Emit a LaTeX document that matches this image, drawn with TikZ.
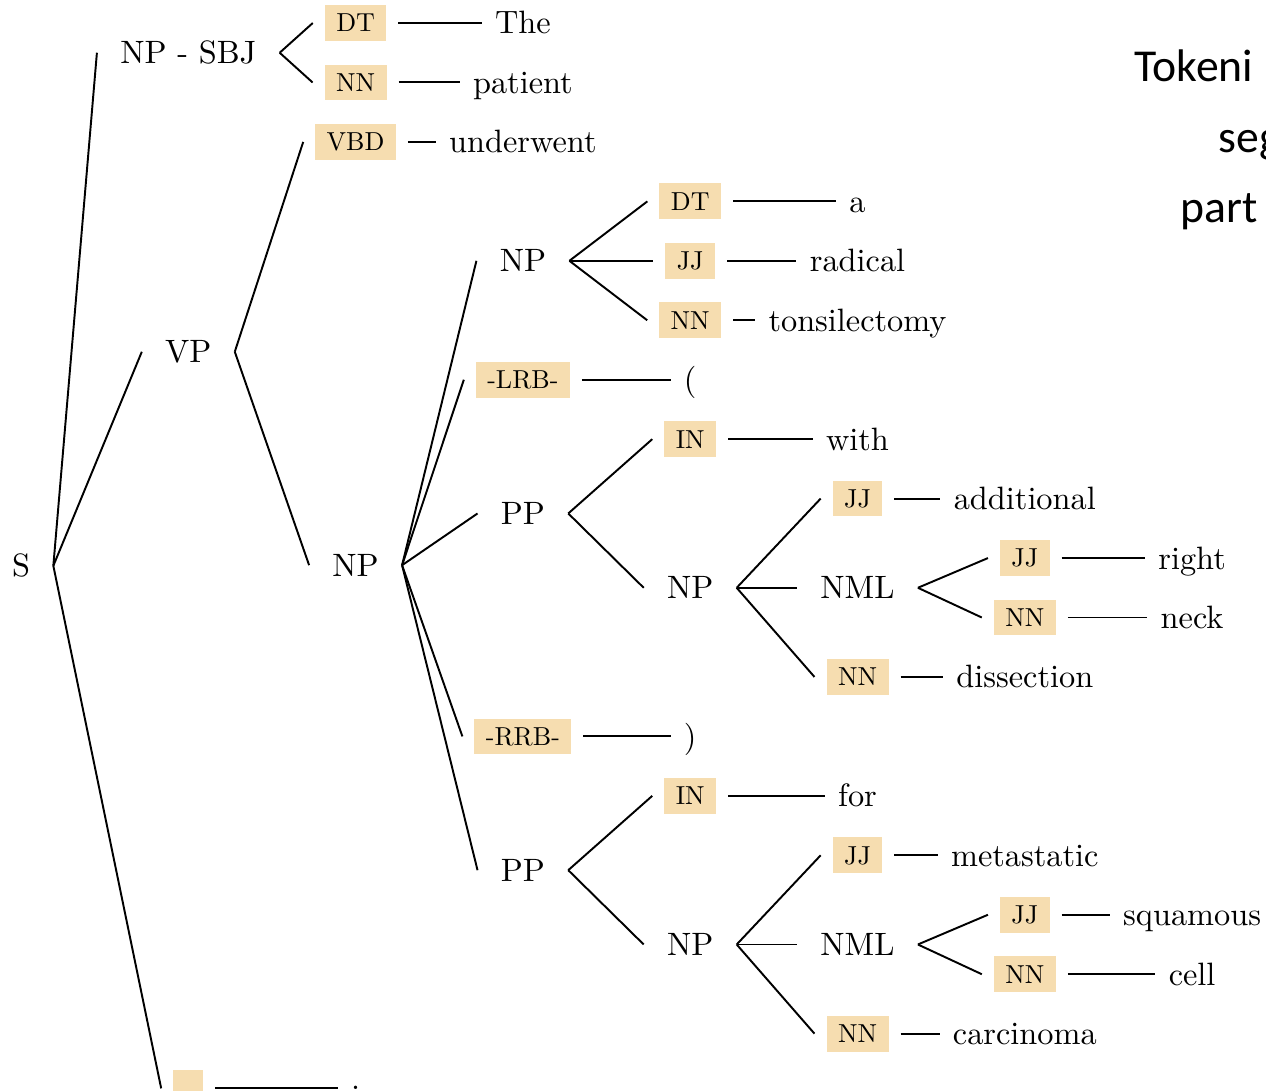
\documentclass[tikz,border=0pt]{standalone}
\usepackage{fontspec}
\usepackage{tikz}
\usepackage{xcolor}
\setmainfont{lmroman10-regular}[Extension=.otf]
\newfontfamily\sidefont{Carlito}
\definecolor{tagbg}{RGB}{246,221,176}

\begin{document}
\begin{tikzpicture}[
    x=3.346cm, y=-1.189cm,
    phr/.style={font=\fontsize{18.4}{22}\selectfont, inner xsep=0.46cm, inner ysep=0pt, text height=12.5pt, text depth=0pt},
    wrd/.style={font=\fontsize{18.4}{22}\selectfont, inner xsep=0.26cm, inner ysep=0pt, text height=12.5pt, text depth=0pt},
    postag/.style={fill=tagbg, font=\fontsize{14.8}{18}\selectfont, inner xsep=0.23cm, inner ysep=0.18cm, outer xsep=0.24cm, outer ysep=0pt, text height=10.1pt, text depth=0pt},
    br/.style={line width=1.1pt},
    side/.style={font=\sidefont\fontsize{26}{30}\selectfont, anchor=base west, inner sep=0pt}
  ]
  \useasboundingbox (-0.1255,-0.387) rectangle (7.4417,17.948);

  % phrases
  \node[phr] (s) at (0,9.13) {S};
  \node[phr] (npsbj) at (1,0.5) {NP - SBJ};
  \node[phr] (vp) at (1,5.53) {VP};
  \node[phr] (np) at (2,9.12) {NP};
  \node[phr] (npa) at (3,4) {NP};
  \node[phr] (ppa) at (3,8.25) {PP};
  \node[phr] (npb) at (4,9.5) {NP};
  \node[phr] (nmla) at (5,9.5) {NML};
  \node[phr] (ppb) at (3,14.25) {PP};
  \node[phr] (npc) at (4,15.5) {NP};
  \node[phr] (nmlb) at (5,15.5) {NML};

  % tags and words
  \node[postag] (t1) at (2,0) {DT};       \node[wrd] (w1) at (3,0) {The};
  \node[postag] (t2) at (2,1) {NN};       \node[wrd] (w2) at (3,1) {patient};
  \node[postag] (t3) at (2,2) {VBD};      \node[wrd] (w3) at (3,2) {underwent};
  \node[postag] (t4) at (4,3) {DT};       \node[wrd] (w4) at (5,3) {a};
  \node[postag] (t5) at (4,4) {JJ};       \node[wrd] (w5) at (5,4) {radical};
  \node[postag] (t6) at (4,5) {NN};       \node[wrd] (w6) at (5,5) {tonsilectomy};
  \node[postag] (t7) at (3,6) {-LRB-};    \node[wrd] (w7) at (4,6) {(};
  \node[postag] (t8) at (4,7) {IN};       \node[wrd] (w8) at (5,7) {with};
  \node[postag] (t9) at (5,8) {JJ};       \node[wrd] (w9) at (6,8) {additional};
  \node[postag] (t10) at (6,9) {JJ};      \node[wrd] (w10) at (7,9) {right};
  \node[postag] (t11) at (6,10) {NN};     \node[wrd] (w11) at (7,10) {neck};
  \node[postag] (t12) at (5,11) {NN};     \node[wrd] (w12) at (6,11) {dissection};
  \node[postag] (t13) at (3,12) {-RRB-};  \node[wrd] (w13) at (4,12) {)};
  \node[postag] (t14) at (4,13) {IN};     \node[wrd] (w14) at (5,13) {for};
  \node[postag] (t15) at (5,14) {JJ};     \node[wrd] (w15) at (6,14) {metastatic};
  \node[postag] (t16) at (6,15) {JJ};     \node[wrd] (w16) at (7,15) {squamous};
  \node[postag] (t17) at (6,16) {NN};     \node[wrd] (w17) at (7,16) {cell};
  \node[postag] (t18) at (5,17) {NN};     \node[wrd] (w18) at (6,17) {carcinoma};
  \node[postag] (t19) at (1,17.92) {.};   \node[wrd] (w19) at (2,17.75) {.};

  % branches
  \draw[br] (s.east) -- (npsbj.west);  \draw[br] (s.east) -- (vp.west);  \draw[br] (s.east) -- (t19.west);
  \draw[br] (npsbj.east) -- (t1.west); \draw[br] (npsbj.east) -- (t2.west);
  \draw[br] (vp.east) -- (t3.west);    \draw[br] (vp.east) -- (np.west);
  \draw[br] (np.east) -- (npa.west);   \draw[br] (np.east) -- (t7.west);  \draw[br] (np.east) -- (ppa.west);
  \draw[br] (np.east) -- (t13.west);   \draw[br] (np.east) -- (ppb.west);
  \draw[br] (npa.east) -- (t4.west);   \draw[br] (npa.east) -- (t5.west); \draw[br] (npa.east) -- (t6.west);
  \draw[br] (ppa.east) -- (t8.west);   \draw[br] (ppa.east) -- (npb.west);
  \draw[br] (npb.east) -- (t9.west);   \draw[br] (npb.east) -- (nmla.west); \draw[br] (npb.east) -- (t12.west);
  \draw[br] (nmla.east) -- (t10.west); \draw[br] (nmla.east) -- (t11.west);
  \draw[br] (ppb.east) -- (t14.west);  \draw[br] (ppb.east) -- (npc.west);
  \draw[br] (npc.east) -- (t15.west);  \draw[br] (npc.east) -- (nmlb.west); \draw[br] (npc.east) -- (t18.west);
  \draw[br] (nmlb.east) -- (t16.west); \draw[br] (nmlb.east) -- (t17.west);

  % tag to word
  \draw[br] (t1.east) -- (w1.west);   \draw[br] (t2.east) -- (w2.west);   \draw[br] (t3.east) -- (w3.west);
  \draw[br] (t4.east) -- (w4.west);   \draw[br] (t5.east) -- (w5.west);   \draw[br] (t6.east) -- (w6.west);
  \draw[br] (t7.east) -- (w7.west);   \draw[br] (t8.east) -- (w8.west);   \draw[br] (t9.east) -- (w9.west);
  \draw[br] (t10.east) -- (w10.west); \draw[br] (t11.east) -- (w11.west); \draw[br] (t12.east) -- (w12.west);
  \draw[br] (t13.east) -- (w13.west); \draw[br] (t14.east) -- (w14.west); \draw[br] (t15.east) -- (w15.west);
  \draw[br] (t16.east) -- (w16.west); \draw[br] (t17.east) -- (w17.west); \draw[br] (t18.east) -- (w18.west);
  \draw[br] (t19.east) -- (t19.east -| w19.west);

  % side text, cut at the edge
  \node[side] (side1) at (6.653,0.99) {Tokeni};
  \node[side] (side2) at (7.155,2.17) {seg};
  \node[side] (side3) at (6.928,3.35) {part};
\end{tikzpicture}
\end{document}
